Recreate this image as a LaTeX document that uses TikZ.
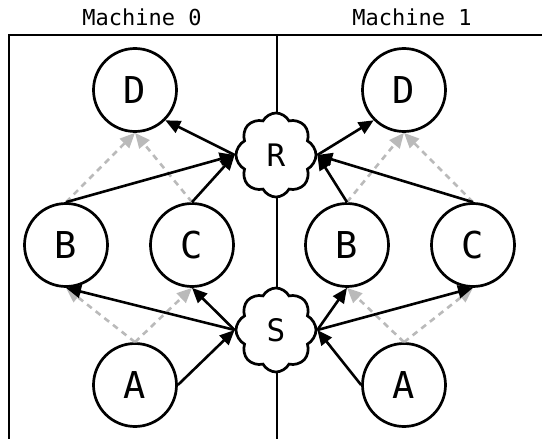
\documentclass[tikz,border=0pt]{standalone}
\usepackage{fontspec}
\setmainfont{DejaVu Sans Mono}
\usetikzlibrary{shapes.symbols,arrows.meta}

\tikzset{
  frameline/.style={line width=2pt},
  vertex/.style={circle, draw, line width=2.7pt, fill=white, minimum size=83pt, inner sep=0pt,
                 font=\fontsize{37}{37}\selectfont},
  router/.style={cloud, cloud puffs=8, cloud puff arc=125, aspect=1, draw, fill=white,
                 line width=2.7pt, minimum width=80pt, minimum height=84pt, inner sep=0pt,
                 font=\fontsize{31}{31}\selectfont},
  flow/.style={line width=2.6pt, -{Triangle[length=15pt,width=13pt]}},
  hint/.style={line width=2.6pt, draw=black!27, dash pattern=on 6pt off 5pt,
               -{Triangle[length=15pt,width=13pt]}},
  machinelabel/.style={font=\fontsize{22}{22}\selectfont, inner sep=0pt}
}

\begin{document}
\begin{tikzpicture}[x=1pt, y=-1pt]
  \useasboundingbox (0,0) rectangle (542,439);

  % machine frames
  \coordinate (tl) at (8.5,34.5);
  \coordinate (tr) at (542,34.5);
  \coordinate (bl) at (8.5,439);
  \coordinate (tm) at (277,34.5);
  \coordinate (bm) at (277,439);
  \draw[frameline] (bl) -- (tl) -- (tr);
  \draw[frameline] (tm) -- (bm);

  \node[machinelabel] (m0) at (142,17) {Machine 0};
  \node[machinelabel] (m1) at (412,17) {Machine 1};

  % machine 0
  \node[vertex] (D0) at (135,90) {D};
  \node[vertex] (B0) at (66,245) {B};
  \node[vertex] (C0) at (192,245) {C};
  \node[vertex] (A0) at (135,385) {A};

  % machine 1
  \node[vertex] (D1) at (404,90) {D};
  \node[vertex] (B1) at (347,245) {B};
  \node[vertex] (C1) at (473,245) {C};
  \node[vertex] (A1) at (404,385) {A};

  % shared routers
  \node[router] (R) at (276,155) {R};
  \node[router] (S) at (276,330) {S};

  % logical dependencies
  \draw[hint] (B0.north) -- (D0.south);
  \draw[hint] (C0.north) -- (D0.south);
  \draw[hint] (A0.north) -- (B0.south);
  \draw[hint] (A0.north) -- (C0.south);
  \draw[hint] (B1.north) -- (D1.south);
  \draw[hint] (C1.north) -- (D1.south);
  \draw[hint] (A1.north) -- (B1.south);
  \draw[hint] (A1.north) -- (C1.south);

  % routed messages
  \draw[flow] (A0.east) -- (S.west);
  \draw[flow] (S.west) -- (B0.south);
  \draw[flow] (S.west) -- (C0.south);
  \draw[flow] (B0.north) -- (R.west);
  \draw[flow] (C0.north) -- (R.west);
  \draw[flow] (R.west) -- (D0.south east);

  \draw[flow] (A1.west) -- (S.east);
  \draw[flow] (S.east) -- (B1.south);
  \draw[flow] (S.east) -- (C1.south);
  \draw[flow] (B1.north) -- (R.east);
  \draw[flow] (C1.north) -- (R.east);
  \draw[flow] (R.east) -- (D1.south west);
\end{tikzpicture}
\end{document}
